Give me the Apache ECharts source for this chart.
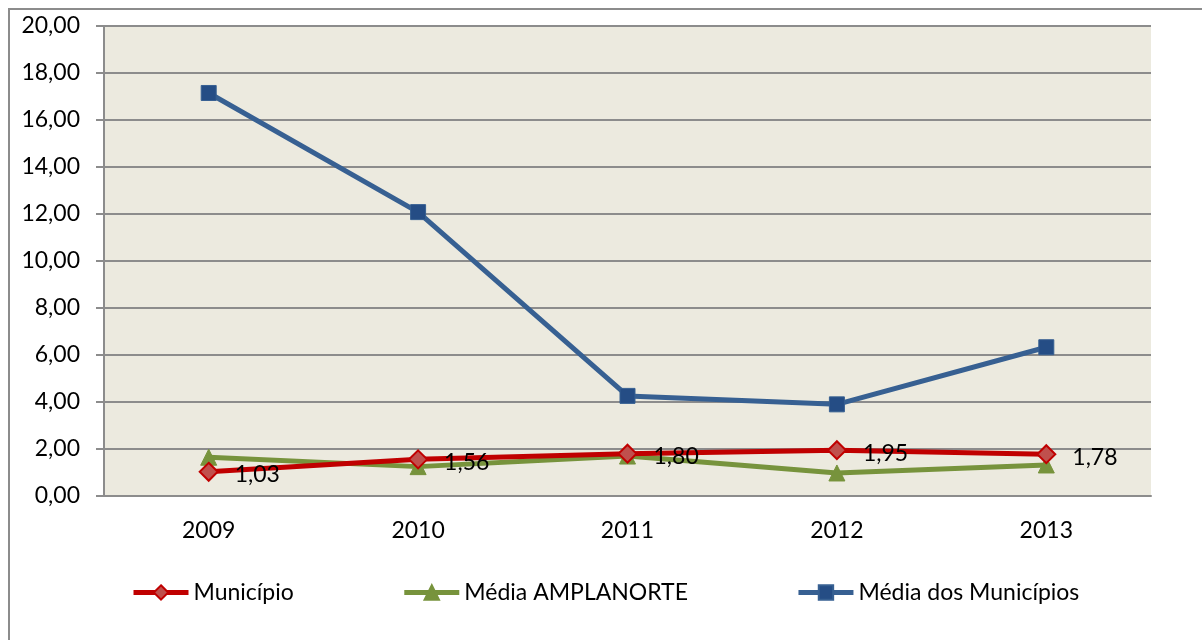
<!DOCTYPE html>
<html>
<head>
<meta charset="utf-8">
<script src="https://cdn.jsdelivr.net/npm/echarts@6/dist/echarts.min.js"></script>
<style>
    html, body { margin: 0; padding: 0; background: #fff; }
    #chart { width: 1202px; height: 640px; }
</style>
</head>
<body>
<div id="chart"></div>
<script>
    var years = ['2009', '2010', '2011', '2012', '2013'];
    var municipio = [1.03, 1.56, 1.80, 1.95, 1.78];
    var mediaAmplanorte = [1.65, 1.25, 1.70, 0.98, 1.32];
    var mediaMunicipios = [17.15, 12.08, 4.26, 3.90, 6.33];
    var yTicks = [0, 2, 4, 6, 8, 10, 12, 14, 16, 18, 20];

    var font = 'Lato, "Open Sans", sans-serif';
    var fontSize = 23;
    function fmt(v) {
        return Number(v).toFixed(2).replace('.', ',');
    }

    var chart = echarts.init(document.getElementById('chart'), null, { renderer: 'canvas' });

    chart.setOption({
        animation: false,
        textStyle: { fontFamily: font },
        graphic: [{
            type: 'rect',
            shape: { x: 9, y: 9, width: 1400, height: 800 },
            style: { fill: 'none', stroke: '#8c8c8c', lineWidth: 2 },
            silent: true
        }],
        grid: {
            left: 104,
            top: 26,
            right: 51,
            bottom: 144,
            show: true,
            backgroundColor: '#ECEADF',
            borderWidth: 0
        },
        legend: {
            left: 126,
            top: 576,
            itemWidth: 55,
            itemHeight: 18,
            itemGap: 108,
            textStyle: { fontSize: fontSize, color: '#000', fontFamily: font },
            data: [
                { name: 'Município', lineStyle: { width: 5 } },
                { name: 'Média AMPLANORTE', lineStyle: { width: 5 } },
                { name: 'Média dos Municípios', lineStyle: { width: 5 } }
            ]
        },
        xAxis: {
            type: 'category',
            data: years,
            boundaryGap: true,
            axisLine: { lineStyle: { color: '#8c8c8c', width: 2 } },
            axisTick: { show: false },
            axisLabel: { fontSize: fontSize, color: '#000', margin: 23, fontFamily: font }
        },
        yAxis: {
            type: 'value',
            min: yTicks[0],
            max: yTicks[yTicks.length - 1],
            interval: 2,
            axisLine: { show: true, lineStyle: { color: '#8c8c8c', width: 2 } },
            axisTick: { show: true, length: 8, lineStyle: { color: '#8c8c8c', width: 2 } },
            splitLine: { lineStyle: { color: '#8c8c8c', width: 2 } },
            axisLabel: {
                fontSize: fontSize,
                color: '#000',
                margin: 24,
                fontFamily: font,
                formatter: fmt
            }
        },
        series: [
            {
                name: 'Município',
                type: 'line',
                data: municipio,
                symbol: 'diamond',
                symbolSize: 18,
                z: 4,
                lineStyle: { color: '#C00000', width: 5 },
                itemStyle: { color: '#C0504D', borderColor: '#C00000', borderWidth: 2 },
                label: {
                    show: true,
                    position: 'right',
                    distance: 16,
                    offset: [0, 3],
                    fontSize: fontSize,
                    color: '#000',
                    fontFamily: font,
                    formatter: function (p) { return fmt(p.value); }
                }
            },
            {
                name: 'Média AMPLANORTE',
                type: 'line',
                data: mediaAmplanorte,
                symbol: 'triangle',
                symbolSize: 16,
                z: 3,
                lineStyle: { color: '#77933C', width: 5 },
                itemStyle: { color: '#77933C', borderColor: '#77933C', borderWidth: 1 }
            },
            {
                name: 'Média dos Municípios',
                type: 'line',
                data: mediaMunicipios,
                symbol: 'rect',
                symbolSize: 15,
                z: 3,
                lineStyle: { color: '#376092', width: 5 },
                itemStyle: { color: '#254D85', borderColor: '#376092', borderWidth: 1 }
            }
        ]
    });

    window.addEventListener('resize', function () {
        chart.resize();
    });
</script>
</body>
</html>
